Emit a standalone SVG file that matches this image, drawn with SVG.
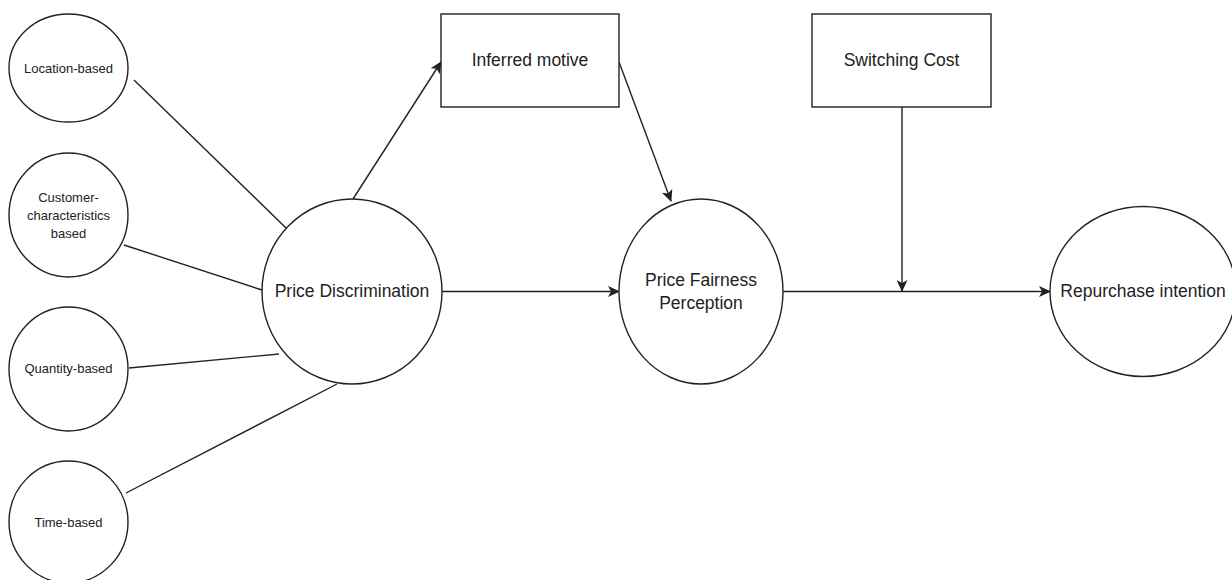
<svg xmlns="http://www.w3.org/2000/svg" width="1232" height="580" viewBox="0 0 1232 580">
<style>
.s{fill:#fff;stroke:#222;stroke-width:1.4}
.c{fill:none;stroke:#222;stroke-width:1.4}
.t{font-family:"Liberation Sans",Arial,sans-serif;font-size:17.5px;fill:#222;text-anchor:middle}
.ts{font-family:"Liberation Sans",Arial,sans-serif;font-size:13px;fill:#222;text-anchor:middle}
</style>
<defs>
<marker id="a" viewBox="0 0 12 11" refX="11" refY="5.5" markerWidth="12" markerHeight="11" markerUnits="userSpaceOnUse" orient="auto">
<path d="M0,0 L12,5.5 L0,11 L3,5.5 Z" fill="#222"/>
</marker>
</defs>
<rect width="1232" height="580" fill="#fff"/>
<g id="connectors">
<line class="c" x1="134" y1="80" x2="286" y2="228"/>
<line class="c" x1="124" y1="245" x2="262" y2="290"/>
<line class="c" x1="129" y1="368" x2="279" y2="354"/>
<line class="c" x1="126" y1="493" x2="337" y2="384"/>
<line class="c" x1="353" y1="199" x2="441" y2="62" marker-end="url(#a)"/>
<line class="c" x1="619" y1="62" x2="671" y2="201" marker-end="url(#a)"/>
<line class="c" x1="442" y1="291.5" x2="619" y2="291.5" marker-end="url(#a)"/>
<line class="c" x1="783" y1="291.5" x2="1050" y2="291.5" marker-end="url(#a)"/>
<line class="c" x1="902" y1="107" x2="902" y2="291" marker-end="url(#a)"/>
</g>
<g id="location">
<ellipse class="s" cx="68.5" cy="68" rx="59.5" ry="54"/>
<text class="ts" x="68.5" y="72.5">Location-based</text>
</g>
<g id="customer">
<ellipse class="s" cx="68.5" cy="215" rx="59.5" ry="62"/>
<text class="ts" x="68.5" y="201.5">Customer-</text>
<text class="ts" x="68.5" y="219.5">characteristics</text>
<text class="ts" x="68.5" y="237.5">based</text>
</g>
<g id="quantity">
<ellipse class="s" cx="68.5" cy="369" rx="59.5" ry="62"/>
<text class="ts" x="68.5" y="372.5">Quantity-based</text>
</g>
<g id="time">
<ellipse class="s" cx="68.5" cy="522" rx="59.5" ry="61"/>
<text class="ts" x="68.5" y="526.5">Time-based</text>
</g>
<g id="price-discrimination">
<ellipse class="s" cx="352" cy="291.5" rx="90" ry="92.5"/>
<text class="t" x="352" y="297">Price Discrimination</text>
</g>
<g id="inferred-motive">
<rect class="s" x="441" y="14" width="178" height="93"/>
<text class="t" x="530" y="66">Inferred motive</text>
</g>
<g id="switching-cost">
<rect class="s" x="812" y="14" width="179" height="93"/>
<text class="t" x="901.5" y="66">Switching Cost</text>
</g>
<g id="price-fairness">
<ellipse class="s" cx="701" cy="291.5" rx="82" ry="92.5"/>
<text class="t" x="701" y="286">Price Fairness</text>
<text class="t" x="701" y="309">Perception</text>
</g>
<g id="repurchase">
<ellipse class="s" cx="1143" cy="291.5" rx="93" ry="85"/>
<text class="t" x="1143" y="297">Repurchase intention</text>
</g>
</svg>
